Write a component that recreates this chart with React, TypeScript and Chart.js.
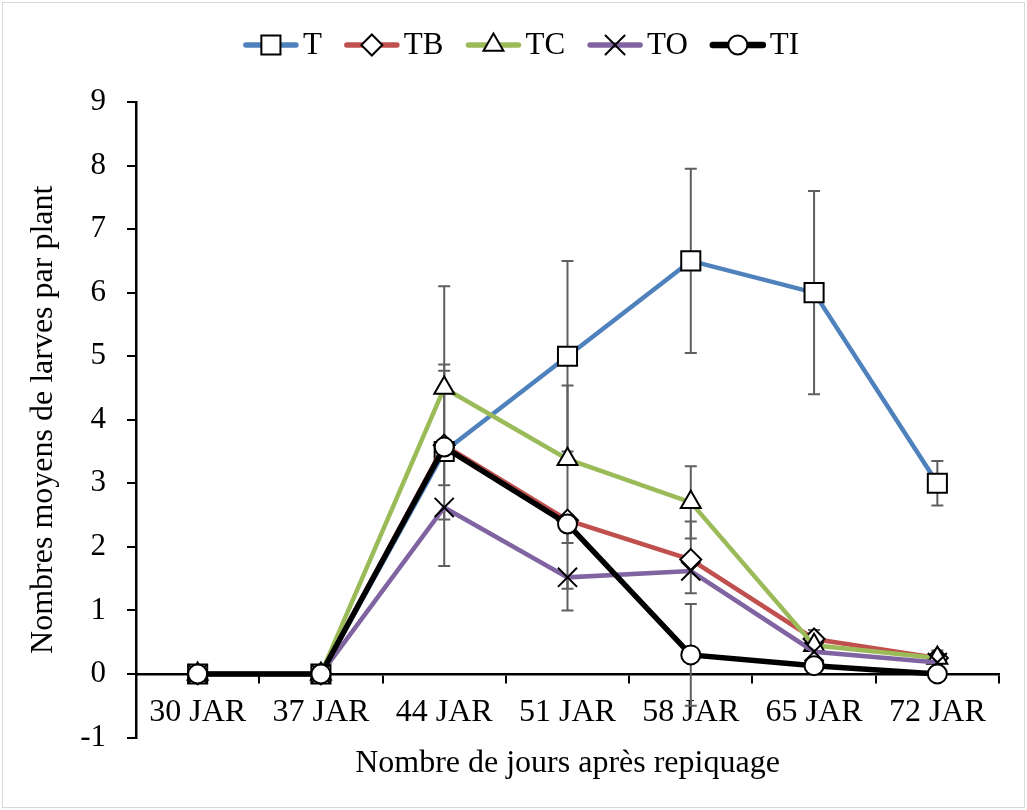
import React, { useEffect, useRef } from 'react';
import { Chart, registerables } from 'chart.js';
import { drawPoint } from 'chart.js/helpers';

Chart.register(...registerables);

// ---------- data ----------
const categories = ['30 JAR', '37 JAR', '44 JAR', '51 JAR', '58 JAR', '65 JAR', '72 JAR'];
const seriesNames = ['T', 'TB', 'TC', 'TO', 'TI'];

const valuesT = [0, 0, 3.5, 5.0, 6.5, 6.0, 3.0];
const valuesTB = [0, 0, 3.6, 2.42, 1.8, 0.55, 0.25];
const valuesTC = [0, 0, 4.5, 3.38, 2.7, 0.45, 0.25];
const valuesTO = [0, 0, 2.62, 1.52, 1.62, 0.35, 0.18];
const valuesTI = [0, 0, 3.57, 2.36, 0.3, 0.13, 0];

// error bar extents (upwards / downwards), null = no bar
const errUpT = [null, null, 2.6, 1.5, 1.45, 1.6, 0.35];
const errDownT = [null, null, 1.8, 1.5, 1.45, 1.6, 0.35];
const errUpTB = [null, null, 1.17, null, 0.6, 0.14, 0.12];
const errDownTB = [null, null, 0.63, null, 0.53, null, null];
const errUpTC = [null, null, 0.37, 1.16, 0.57, null, null];
const errDownTC = [null, null, null, 1.32, 0.57, null, null];
const errUpTO = [null, null, null, null, null, null, null];
const errDownTO = [null, null, 0.19, 0.18, null, null, null];
const errUpTI = [null, null, null, null, 0.8, null, null];
const errDownTI = [null, null, null, 1.36, 0.8, null, null];

const yMin = -1;
const yMax = 9;
const yStep = 1;

const xTitle = 'Nombre de jours après repiquage';
const yTitle = 'Nombres moyens de larves par plant';

// ---------- styles ----------
const FONT = "'Liberation Serif', 'Times New Roman', serif";
const colors = ['#4F81BD', '#C0504D', '#9BBB59', '#8064A2', '#000000'];
const pointStyles = ['rect', 'rectRot', 'triangle', 'crossRot', 'circle'];
const pointRadii = [13.5, 10.5, 11.5, 13.5, 9.5];
const lineWidths = [4.5, 4.5, 4.5, 4.5, 5.5];

const allValues = [valuesT, valuesTB, valuesTC, valuesTO, valuesTI];
const allUp = [errUpT, errUpTB, errUpTC, errUpTO, errUpTI];
const allDown = [errDownT, errDownTB, errDownTC, errDownTO, errDownTI];

const errorBarPlugin = {
  id: 'errorBars',
  beforeDatasetsDraw(chart: any) {
    const ctx = chart.ctx;
    const xs = chart.scales.x;
    const ys = chart.scales.y;
    ctx.save();
    ctx.strokeStyle = '#5f5f5f';
    ctx.lineWidth = 2;
    chart.data.datasets.forEach((ds: any) => {
      ds.data.forEach((v: number, i: number) => {
        const up = ds.errUp[i];
        const down = ds.errDown[i];
        if (up == null && down == null) return;
        const x = xs.getPixelForValue(i);
        const yTop = ys.getPixelForValue(v + (up ?? 0));
        const yBot = ys.getPixelForValue(v - (down ?? 0));
        ctx.beginPath();
        ctx.moveTo(x, yTop);
        ctx.lineTo(x, yBot);
        if (up != null) {
          ctx.moveTo(x - 6, yTop);
          ctx.lineTo(x + 6, yTop);
        }
        if (down != null) {
          ctx.moveTo(x - 6, yBot);
          ctx.lineTo(x + 6, yBot);
        }
        ctx.stroke();
      });
    });
    ctx.restore();
  },
};

const decorPlugin = {
  id: 'decor',
  beforeDraw(chart: any) {
    const ctx = chart.ctx;
    ctx.save();
    ctx.fillStyle = '#ffffff';
    ctx.fillRect(0, 0, chart.width, chart.height);
    ctx.strokeStyle = '#d9d9d9';
    ctx.lineWidth = 1;
    ctx.strokeRect(2.5, 2.5, chart.width - 5, chart.height - 5);
    ctx.restore();
  },
  afterDraw(chart: any) {
    const ctx = chart.ctx;
    const area = chart.chartArea;
    ctx.save();
    // x title
    ctx.fillStyle = '#000';
    ctx.font = `32px ${FONT}`;
    ctx.textAlign = 'center';
    ctx.textBaseline = 'middle';
    ctx.fillText(xTitle, (area.left + area.right) / 2, 764);

    // legend
    ctx.font = `31px ${FONT}`;
    const lineLen = 56;
    const gapText = 4;
    const gapItem = 22;
    const widths = seriesNames.map((n) => lineLen + gapText + ctx.measureText(n).width);
    const total = widths.reduce((a, b) => a + b, 0) + gapItem * (seriesNames.length - 1);
    let x = 521 - total / 2;
    const y = 45;
    seriesNames.forEach((name, i) => {
      ctx.strokeStyle = colors[i];
      ctx.lineWidth = lineWidths[i] + 1;
      ctx.lineCap = 'round';
      ctx.beginPath();
      ctx.moveTo(x + 3, y);
      ctx.lineTo(x + lineLen - 3, y);
      ctx.stroke();
      ctx.fillStyle = '#ffffff';
      ctx.strokeStyle = '#000000';
      ctx.lineWidth = 2;
      drawPoint(ctx, { pointStyle: pointStyles[i], radius: pointRadii[i], borderWidth: 2, rotation: 0 } as any, x + lineLen / 2, y);
      ctx.fillStyle = '#000';
      ctx.textAlign = 'left';
      ctx.textBaseline = 'middle';
      ctx.fillText(name, x + lineLen + gapText, y + 1);
      x += widths[i] + gapItem;
    });
    ctx.restore();
  },
};

export default function App() {
  const ref = useRef<HTMLCanvasElement | null>(null);

  useEffect(() => {
    if (!ref.current) return;
    const datasets = seriesNames.map((name, i) => ({
      label: name,
      data: allValues[i],
      errUp: allUp[i],
      errDown: allDown[i],
      borderColor: colors[i],
      backgroundColor: '#ffffff',
      borderWidth: lineWidths[i],
      pointStyle: pointStyles[i],
      pointRadius: pointRadii[i],
      pointBorderColor: '#000000',
      pointBackgroundColor: '#ffffff',
      pointBorderWidth: 2,
      pointHoverRadius: pointRadii[i],
      tension: 0,
      fill: false,
      order: seriesNames.length - i,
    }));

    const chart = new Chart(ref.current, {
      type: 'line',
      data: { labels: categories, datasets: datasets as any },
      plugins: [decorPlugin, errorBarPlugin],
      options: {
        responsive: false,
        animation: false,
        layout: { padding: { top: 102, right: 28, bottom: 72.5, left: 0 } },
        plugins: {
          legend: { display: false },
          tooltip: { enabled: false },
        },
        scales: {
          x: {
            type: 'category',
            position: { y: 0 } as any,
            offset: true,
            grid: {
              offset: true,
              drawOnChartArea: false,
              drawTicks: true,
              tickLength: 8,
              color: '#000000',
              lineWidth: 2,
            },
            border: { display: true, color: '#000000', width: 2.5 },
            ticks: {
              color: '#000000',
              font: { family: FONT, size: 32 },
              padding: 11,
              maxRotation: 0,
              autoSkip: false,
            },
          },
          y: {
            type: 'linear',
            min: yMin,
            max: yMax,
            afterFit: (s: any) => {
              s.width = 136;
            },
            grid: {
              drawOnChartArea: false,
              drawTicks: true,
              tickLength: 9,
              color: '#000000',
              lineWidth: 2,
            },
            border: { display: true, color: '#000000', width: 2.5 },
            ticks: {
              stepSize: yStep,
              color: '#000000',
              font: { family: FONT, size: 31 },
              padding: 21,
            },
            title: {
              display: true,
              text: yTitle,
              color: '#000000',
              font: { family: FONT, size: 32 },
              padding: { top: 24, bottom: 0 },
            },
          },
        },
      },
    });
    return () => chart.destroy();
  }, []);

  return (
    <canvas
      ref={ref}
      width={1027}
      height={810}
      style={{ position: 'fixed', left: 0, top: 0, width: 1027, height: 810 }}
    />
  );
}
